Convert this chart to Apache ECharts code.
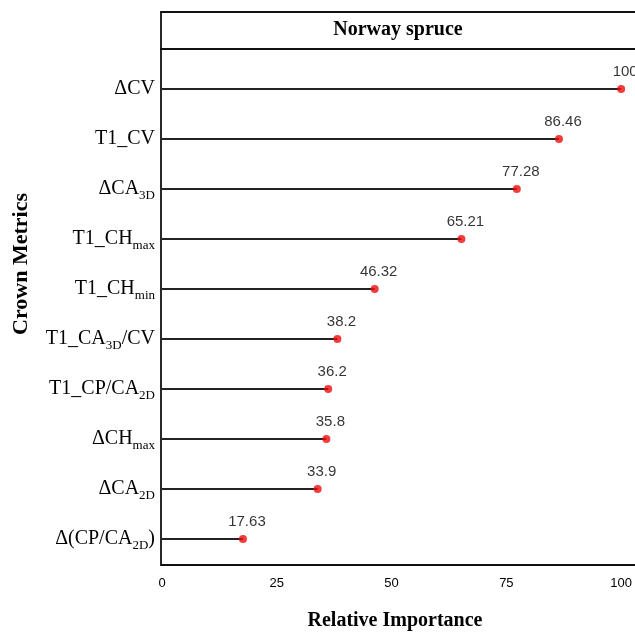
<!DOCTYPE html>
<html>
<head>
<meta charset="utf-8">
<script src="https://cdn.jsdelivr.net/npm/echarts@6/dist/echarts.min.js"></script>
<style>
html,body{margin:0;padding:0;background:#fff;}
#chart{width:635px;height:633px;}
</style>
</head>
<body>
<div id="chart"></div>
<script>
// metric names, with subscript part after '|'
var metrics = ['ΔCV', 'T1_CV', 'ΔCA|3D', 'T1_CH|max', 'T1_CH|min', 'T1_CA|3D|/CV', 'T1_CP/CA|2D', 'ΔCH|max', 'ΔCA|2D', 'Δ(CP/CA|2D|)'];
var importance = [100, 86.46, 77.28, 65.21, 46.32, 38.2, 36.2, 35.8, 33.9, 17.63];
var xTicks = [0, 25, 50, 75, 100];

var myChart = echarts.init(document.getElementById('chart'));

function fmtMetric(v){
    var parts = v.split('|');
    var out = '';
    for (var i = 0; i < parts.length; i++) {
        if (parts[i] === '') continue;
        out += (i % 2 === 1 ? '{s|' : '{n|') + parts[i] + '}';
    }
    return out;
}

var serif = '"Liberation Serif", "DejaVu Serif", serif';
var sans = '"Liberation Sans", Arial, sans-serif';

var option = {
    animation: false,
    grid: {
        left: 162,
        right: 9,
        top: 64,
        bottom: 69
    },
    xAxis: {
        type: 'value',
        min: 0,
        max: 100,
        interval: 25,
        axisLine: {show: false},
        axisTick: {show: false},
        splitLine: {show: false},
        axisLabel: {
            color: '#000',
            fontFamily: sans,
            fontSize: 13,
            margin: 13,
            formatter: function(v){ return xTicks.indexOf(v) >= 0 ? String(v) : ''; }
        }
    },
    yAxis: {
        type: 'category',
        inverse: true,
        data: metrics,
        axisLine: {show: false},
        axisTick: {show: false},
        axisLabel: {
            margin: 7,
            formatter: fmtMetric,
            rich: {
                n: {fontFamily: serif, fontSize: 20, color: '#000', lineHeight: 26, verticalAlign: 'middle'},
                s: {fontFamily: serif, fontSize: 13, color: '#000', lineHeight: 26, verticalAlign: 'bottom'}
            }
        }
    },
    series: [
        {
            type: 'bar',
            data: importance,
            barWidth: 1.8,
            itemStyle: {color: '#222'},
            silent: true
        },
        {
            type: 'scatter',
            data: importance,
            symbolSize: 8,
            itemStyle: {color: '#f00d0d'},
            label: {
                show: true,
                position: 'top',
                distance: 6,
                offset: [4, 0],
                color: '#000',
                fontFamily: sans,
                fontSize: 15
            }
        }
    ],
    graphic: [
        {
            type: 'rect',
            shape: {x: 161, y: 12, width: 500, height: 37},
            style: {fill: 'none', stroke: '#111', lineWidth: 1.8}
        },
        {
            type: 'rect',
            shape: {x: 161, y: 49, width: 500, height: 516},
            style: {fill: 'none', stroke: '#111', lineWidth: 1.8}
        },
        {
            type: 'text',
            x: 398, y: 30,
            style: {text: 'Norway spruce', fontFamily: serif, fontWeight: 'bold', fontSize: 20, fill: '#000', align: 'center', verticalAlign: 'middle'}
        },
        {
            type: 'text',
            x: 395, y: 621,
            style: {text: 'Relative Importance', fontFamily: serif, fontWeight: 'bold', fontSize: 20, fill: '#000', align: 'center', verticalAlign: 'middle'}
        },
        {
            type: 'text',
            x: 21, y: 264,
            rotation: Math.PI / 2,
            style: {text: 'Crown Metrics', fontFamily: serif, fontWeight: 'bold', fontSize: 22, fill: '#000', align: 'center', verticalAlign: 'middle'}
        }
    ]
};

myChart.setOption(option);
</script>
</body>
</html>
